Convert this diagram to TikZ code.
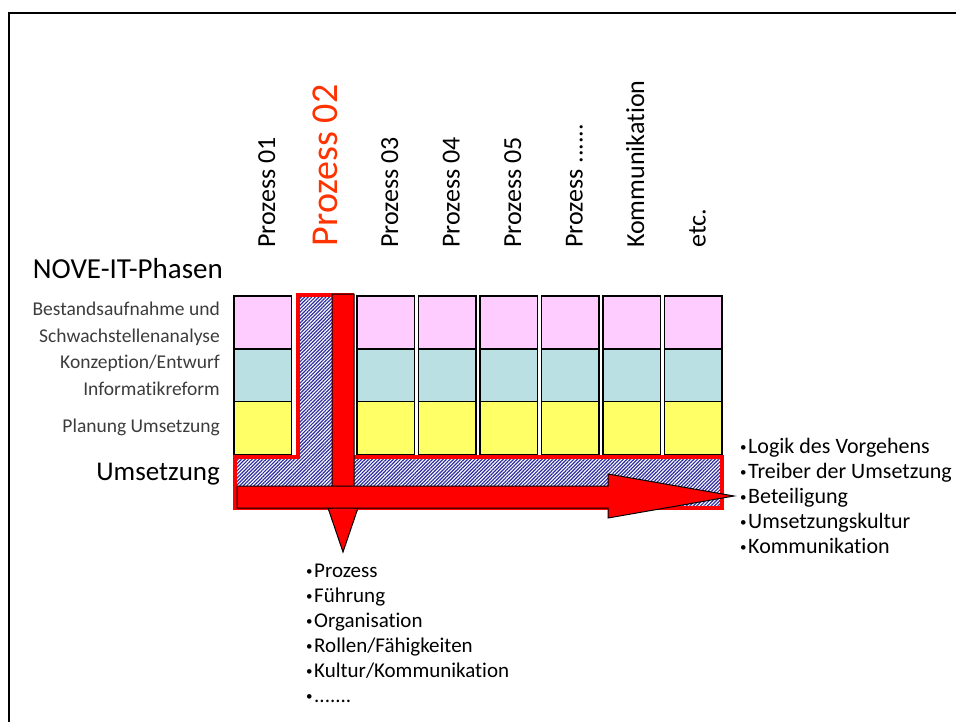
\documentclass[tikz,border=0pt]{standalone}
\usepackage{fontspec}
\setmainfont{Carlito}[RawFeature={-liga;-clig;-calt;-dlig}]
\usetikzlibrary{patterns.meta}
\definecolor{phpink}{RGB}{255,204,255}
\definecolor{phteal}{RGB}{187,224,227}
\definecolor{phyellow}{RGB}{255,255,102}
\definecolor{hatchblue}{RGB}{45,45,160}
\definecolor{procred}{RGB}{255,51,0}
\definecolor{labelgray}{RGB}{60,60,60}
\newcommand{\itembul}{\makebox[8pt][l]{\raisebox{1.5pt}{\fontsize{13}{13}\selectfont\textbullet}}}
\newcommand{\prdots}{......}
\tikzset{
  phbox/.style={draw,line width=1.3pt,minimum width=57.5pt,minimum height=53pt,inner sep=0pt},
  collabel/.style={rotate=90,anchor=base west,inner sep=0pt,font=\fontsize{26}{30}\selectfont},
  phlabel/.style={anchor=base east,inner sep=0pt,text=labelgray,font=\fontsize{19.5}{22}\selectfont},
  biglabel/.style={anchor=base east,inner sep=0pt,font=\fontsize{27}{30}\selectfont},
  bulletitem/.style={anchor=base west,inner sep=0pt,font=\fontsize{21}{25}\selectfont},
  hatch/.style={pattern={Lines[angle=45,distance=2.5pt,line width=1.2pt]},pattern color=hatchblue},
  blockarrow/.style={fill=red,draw=black,line width=1pt}
}
\begin{document}
\begin{tikzpicture}[x=1pt,y=-1pt]
\useasboundingbox (0,0) rectangle (956,722);
\draw[line width=2.5pt] (9,722) -- (9,13) -- (956,13);
\foreach \i in {1,3,4,5,6,7,8}{
  \node[phbox,fill=phpink] (ba\i) at ({262.75+61.5*(\i-1)},322.5) {};
  \node[phbox,fill=phteal] (ko\i) at ({262.75+61.5*(\i-1)},375.5) {};
  \node[phbox,fill=phyellow] (pl\i) at ({262.75+61.5*(\i-1)},428) {};
}
\draw[hatch,draw=red,line width=4pt] (235,457) -- (298,457) -- (298,295) -- (352,295)
  -- (352,457) -- (722,457) -- (722,508) -- (235,508) -- cycle;
\draw[blockarrow] (332,294) -- (354,294) -- (354,508) -- (358,508) -- (343,552)
  -- (328,508) -- (332,508) -- cycle;
\draw[blockarrow] (237,486) -- (608,486) -- (608,474) -- (734,496) -- (608,518)
  -- (608,508) -- (237,508) -- cycle;
\foreach \txt/\i in {Prozess 01/1,Prozess 03/3,Prozess 04/4,Prozess 05/5,Prozess \prdots/6,Kommunikation/7,etc./8}
  \node[collabel] (pr\i) at ({275+61.5*(\i-1)},248) {\txt};
\node[collabel,text=procred,font=\fontsize{38}{44}\selectfont] (pr2) at (337,246.5) {Prozess 02};
\node[biglabel,font=\fontsize{29}{32}\selectfont] (phasen) at (223,279) {NOVE-IT-Phasen};
\node[phlabel] (ph1a) at (220,315) {Bestandsaufnahme und};
\node[phlabel] (ph1b) at (220,342) {Schwachstellenanalyse};
\node[phlabel] (ph2a) at (220,368) {Konzeption/Entwurf};
\node[phlabel] (ph2b) at (220,395) {Informatikreform};
\node[phlabel] (ph3) at (220,432) {Planung Umsetzung};
\node[biglabel] (ph4) at (220,480) {Umsetzung};
\foreach \txt [count=\i] in {Logik des Vorgehens,Treiber der Umsetzung,Beteiligung,Umsetzungskultur,Kommunikation}
  \node[bulletitem,font=\fontsize{22}{25}\selectfont] (re\i) at (740,{453+25*(\i-1)}) {\itembul\txt};
\foreach \txt [count=\i] in {Prozess,Führung,Organisation,Rollen/Fähigkeiten,Kultur/Kommunikation,\prdots.}
  \node[bulletitem] (un\i) at (306,{577+25*(\i-1)}) {\itembul\txt};
\end{tikzpicture}
\end{document}
